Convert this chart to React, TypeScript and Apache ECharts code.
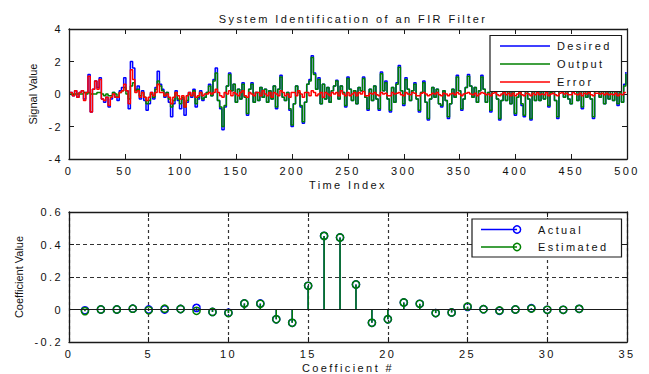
import React, { useEffect, useRef } from "react";
import * as echarts from "echarts";

// ---------- Top plot data (one stored value every 2 samples) ----------
const sampleStep = 2;
const desired = [
  0.1, -0.1, 0.2, -0.2, 0.1, 0.2, -0.3, 0.1, 1.2, -1.1,
  0.3, 0.8, 0.4, 1.0, -0.3, -0.5, -0.2, -0.8, -0.3, 0.1,
  -0.2, -0.4, 0.2, 0.4, 1.0, 0.2, -0.9, 2.0, 1.6, 0.3,
  0.5, -0.3, 0.2, -0.4, -1.0, -0.6, 0.1, -0.3, 0.4, 1.4,
  0.6, 0.3, -0.2, 0.1, -0.5, -1.4, -0.6, 0.2, -0.4, -0.9,
  -0.3, -1.3, -0.5, 0.1, -0.2, 0.3, -0.8, -0.3, 0.2, -0.4,
  -0.2, 0.1, 0.6, -0.1, 0.9, 1.6, -0.4, -0.9, -2.2, -0.8,
  0.5, 1.3, 0.2, 0.6, -0.5, 0.3, -0.3, 0.7, -0.2, -1.3,
  0.3, 0.7, -0.5, 0.1, -0.4, 0.4, -0.2, 0.3, -0.5, 0.2,
  -0.3, 0.5, -0.9, 0.3, 1.15, -0.2, -0.4, 0.1, -1.0, -2.0,
  -0.6, 0.5, 0.1, -0.8, -1.8, -0.5, 0.6, 0.9, 2.35, 1.3,
  0.3, 1.0, -0.6, 0.6, -0.3, 0.4, -0.5, 0.2, 0.5, 0.85,
  -0.3, 0.5, 0.1, -0.8, 1.05, 0.3, -0.4, 0.2, -0.6, 0.4,
  0.2, 1.05, -0.2, -1.0, 0.3, -0.4, 0.5, -0.3, -1.0, 1.35,
  0.2, 0.8, -0.3, -1.1, 0.4, -0.5, 0.7, 1.75, 0.2, -0.7,
  1.0, 0.3, -0.4, 0.2, 0.7, -0.3, -1.1, 0.1, 0.8, -0.5,
  -1.6, -0.3, 0.4, -0.2, 0.3, -0.6, -0.8, 0.2, -0.4, -1.5,
  -0.6, 0.3, -0.2, 1.15, 0.2, -1.0, -0.3, 0.4, 1.2, 0.5,
  -0.2, 0.4, -0.5, 0.2, 1.15, 0.3, -0.5, 0.1, -1.1, 0.5,
  0.8, -0.3, -1.6, -0.4, 0.6, -0.4, 0.3, -0.6, 0.4, -1.3,
  -0.2, 0.7, -0.7, -1.4, 0.6, -0.3, -1.6, 0.3, -0.4, 0.5,
  -0.4, 0.2, -0.3, 0.8, -0.8, 0.1, 0.5, -0.4, -1.5, 0.3,
  0.7, -0.2, 0.4, -0.3, -0.6, 0.5, 0.2, -0.4, 0.3, -0.9,
  0.4, -0.2, 0.6, -0.3, -1.5, 0.2, 0.5, -0.2, 0.3, -0.6,
  0.4, -0.3, 0.2, -0.4, 0.3, -0.7, 0.1, -0.5, 0.6, 1.35,
];
const output = [
  0, 0, 0, 0, 0, 0, 0.1, 0, 0.1, 0,
  0, 0, 0.1, 0.1, 0, -0.1, 0, -0.1, -0.1, 0.1,
  0, -0.2, 0.1, 0.2, 0.4, 0, -0.3, 0.5, 0.7, 0.2,
  0.3, -0.1, 0.1, -0.2, -0.6, -0.4, 0, -0.2, 0.3, 0.8,
  0.5, 0.2, -0.1, 0.1, -0.3, -0.8, -0.4, 0.1, -0.3, -0.6,
  -0.2, -0.8, -0.4, 0, -0.1, 0.2, -0.6, -0.2, 0.1, -0.3,
  -0.2, 0.1, 0.5, -0.1, 0.8, 1.3, -0.4, -0.8, -2.0, -0.7,
  0.5, 1.2, 0.2, 0.6, -0.5, 0.3, -0.3, 0.6, -0.2, -1.2,
  0.3, 0.6, -0.5, 0.1, -0.4, 0.4, -0.2, 0.3, -0.5, 0.2,
  -0.3, 0.5, -0.8, 0.3, 1.05, -0.2, -0.4, 0.1, -0.9, -1.9,
  -0.6, 0.5, 0.1, -0.7, -1.7, -0.5, 0.6, 0.8, 2.25, 1.2,
  0.3, 0.9, -0.6, 0.6, -0.3, 0.4, -0.5, 0.2, 0.5, 0.8,
  -0.3, 0.5, 0.1, -0.7, 0.95, 0.3, -0.4, 0.2, -0.6, 0.4,
  0.2, 0.95, -0.2, -0.9, 0.3, -0.4, 0.5, -0.3, -0.9, 1.25,
  0.2, 0.7, -0.3, -1.0, 0.4, -0.5, 0.6, 1.65, 0.2, -0.6,
  0.9, 0.3, -0.4, 0.2, 0.6, -0.3, -1.0, 0.1, 0.7, -0.5,
  -1.5, -0.3, 0.4, -0.2, 0.3, -0.6, -0.7, 0.2, -0.4, -1.4,
  -0.6, 0.3, -0.2, 1.05, 0.2, -0.9, -0.3, 0.4, 1.1, 0.5,
  -0.2, 0.4, -0.5, 0.2, 1.05, 0.3, -0.5, 0.1, -1.0, 0.5,
  0.7, -0.3, -1.5, -0.4, 0.6, -0.4, 0.3, -0.6, 0.4, -1.2,
  -0.2, 0.6, -0.6, -1.3, 0.6, -0.3, -1.5, 0.3, -0.4, 0.5,
  -0.4, 0.2, -0.3, 0.7, -0.7, 0.1, 0.5, -0.4, -1.4, 0.3,
  0.6, -0.2, 0.4, -0.3, -0.6, 0.5, 0.2, -0.4, 0.3, -0.8,
  0.4, -0.2, 0.6, -0.3, -1.4, 0.2, 0.5, -0.2, 0.3, -0.6,
  0.4, -0.3, 0.2, -0.4, 0.3, -0.6, 0.1, -0.5, 0.5, 1.25,
];
const errorSig = [
  0.1, -0.1, 0.2, -0.2, 0.1, 0.2, -0.4, 0.1, 1.1, -1.1,
  0.3, 0.8, 0.3, 0.9, -0.3, -0.4, -0.2, -0.7, -0.2, 0,
  -0.2, -0.2, 0.1, 0.2, 0.6, 0.2, -0.6, 1.5, 0.9, 0.1,
  0.2, -0.2, 0.1, -0.2, -0.4, -0.2, 0.1, -0.1, 0.1, 0.6,
  0.1, 0.1, -0.1, 0, -0.2, -0.6, -0.2, 0.1, -0.1, -0.3,
  -0.1, -0.8, -0.1, 0.1, -0.1, 0.1, -0.2, -0.1, 0.1, -0.1,
  0, 0, 0.1, 0, 0.1, 0.3, 0.1, -0.1, -0.2, 0.1,
  0, 0.2, -0.1, 0.1, 0, -0.1, 0.1, 0.2, -0.1, -0.2,
  0.1, 0, -0.1, 0.1, 0.1, -0.1, 0.2, 0, -0.1, 0.1,
  -0.2, 0.1, 0, -0.1, 0.2, 0.1, -0.1, 0, -0.2, 0.1,
  0.1, -0.1, 0.2, 0, -0.2, 0.1, 0.1, -0.1, 0.2, 0.1,
  -0.1, 0, 0.1, -0.2, 0.1, 0, -0.1, 0.1, 0, 0.1,
  -0.1, 0.2, 0, -0.1, 0.1, -0.1, 0, 0.1, -0.1, 0.1,
  0, 0.15, -0.1, -0.1, 0.05, 0, 0.1, -0.05, -0.1, 0.1,
  0, 0.05, -0.1, -0.1, 0.1, 0, 0.05, 0.1, -0.05, -0.1,
  0.1, 0, -0.05, 0.1, 0.05, -0.1, -0.1, 0.05, 0.1, 0,
  -0.1, -0.05, 0.05, 0, 0.1, -0.05, -0.1, 0.05, 0, -0.1,
  0, 0.05, -0.05, 0.1, 0, -0.1, 0, 0.05, 0.1, 0,
  -0.05, 0.05, -0.1, 0, 0.1, 0.05, -0.05, 0, -0.1, 0.05,
  0.1, -0.05, -0.1, 0, 0.1, -0.05, 0.05, -0.1, 0.05, -0.1,
  0, 0.1, -0.05, -0.1, 0.05, 0, -0.1, 0.05, -0.05, 0.1,
  -0.05, 0, -0.05, 0.1, -0.1, 0, 0.05, -0.05, -0.1, 0.05,
  0.1, 0, 0.05, -0.05, -0.05, 0.1, 0, -0.05, 0.05, -0.1,
  0.05, 0, 0.1, -0.05, -0.1, 0.05, 0.05, 0, 0.05, -0.05,
  0.05, -0.05, 0, -0.05, 0.05, -0.1, 0, -0.05, 0.1, 0.1,
];

// ---------- Bottom plot data ----------
const coefIndex = [
  1, 2, 3, 4, 5, 6, 7, 8, 9, 10, 11, 12, 13, 14, 15, 16,
  17, 18, 19, 20, 21, 22, 23, 24, 25, 26, 27, 28, 29, 30, 31, 32,
];
const actualCoef = [
  -0.005, 0, 0, 0.005, 0, 0, 0.003, 0.01, -0.015, -0.02, 0.037, 0.037, -0.06, -0.082, 0.146, 0.453,
  0.443, 0.154, -0.082, -0.06, 0.043, 0.035, -0.022, -0.018, 0.016, 0.002, -0.008, 0, 0.008, -0.002, -0.002, 0.004,
];
const estimatedCoef = [
  -0.01, 0, 0, 0.005, -0.005, 0.005, 0.003, -0.008, -0.015, -0.022, 0.037, 0.035, -0.06, -0.082, 0.146, 0.453,
  0.443, 0.154, -0.082, -0.06, 0.043, 0.035, -0.022, -0.018, 0.018, 0.002, -0.006, 0, 0.006, -0.002, -0.002, 0.004,
];

const topLegend = ["Desired", "Output", "Error"];
const bottomLegend = ["Actual", "Estimated"];

const BLUE = "#0000ff";
const GREEN = "#008000";
const RED = "#ff0000";
const AXIS = "#1a1a1a";
const FONT = "Liberation Sans";
const FS = 11;

const textStyle = { color: "#111", fontFamily: FONT, fontSize: FS };

function axis(grid: number, min: number, max: number, interval: number, position: string, labels: boolean, extra: any = {}) {
  return {
    type: "value",
    gridIndex: grid,
    min,
    max,
    interval,
    position,
    axisLine: { show: true, onZero: false, lineStyle: { color: AXIS, width: 1.3 } },
    axisTick: { show: true, inside: true, length: 5, lineStyle: { color: AXIS, width: 1 } },
    axisLabel: { show: labels, ...textStyle, margin: 6 },
    splitLine: { show: false },
    ...extra,
  };
}

const stemRender = (color: string) => (params: any, api: any) => {
  const x = api.value(0);
  const y = api.value(1);
  const p = api.coord([x, y]);
  const b = api.coord([x, 0]);
  return {
    type: "group",
    children: [
      { type: "line", shape: { x1: b[0], y1: b[1], x2: p[0], y2: p[1] }, style: { stroke: color, lineWidth: 1.5 } },
      { type: "circle", shape: { cx: p[0], cy: p[1], r: 3.6 }, style: { fill: "none", stroke: color, lineWidth: 1.5 } },
    ],
  };
};

function buildOption() {
  const timeIndex = desired.map((_, k) => k * sampleStep + 1);
  const pts = (arr: number[]) => arr.map((v, k) => [timeIndex[k], v]);
  const dashH = { color: "#333", width: 1.2, type: [4, 3] };
  const dashV = { color: "#333", width: 1.2, type: [3, 3] };
  const legendFont = `${FS}px "${FONT}"`;

  const topColors = [BLUE, GREEN, RED];
  const topLegendItems: any[] = [
    { type: "rect", shape: { x: 490, y: 35.5, width: 131.5, height: 56 }, style: { fill: "#fff", stroke: AXIS, lineWidth: 1.2 }, z: 100 },
  ];
  topLegend.forEach((name, i) => {
    const y = 46 + i * 18;
    topLegendItems.push({ type: "line", shape: { x1: 500, y1: y, x2: 550, y2: y }, style: { stroke: topColors[i], lineWidth: 1.5 }, z: 101 });
    topLegendItems.push({ type: "text", x: 557, y, style: { text: name, font: legendFont, fill: "#111", verticalAlign: "middle", textVerticalAlign: "middle" }, z: 101 });
  });

  const botColors = [BLUE, GREEN];
  const botLegendItems: any[] = [
    { type: "rect", shape: { x: 472, y: 219, width: 149.5, height: 38 }, style: { fill: "#fff", stroke: AXIS, lineWidth: 1.2 }, z: 100 },
  ];
  bottomLegend.forEach((name, i) => {
    const y = 229.5 + i * 17.5;
    botLegendItems.push({ type: "line", shape: { x1: 481, y1: y, x2: 517, y2: y }, style: { stroke: botColors[i], lineWidth: 1.5 }, z: 101 });
    botLegendItems.push({ type: "circle", shape: { cx: 517, cy: y, r: 3.6 }, style: { fill: "none", stroke: botColors[i], lineWidth: 1.5 }, z: 101 });
    botLegendItems.push({ type: "text", x: 538, y, style: { text: name, font: legendFont, fill: "#111", verticalAlign: "middle", textVerticalAlign: "middle" }, z: 101 });
  });

  const nameStyle = { ...textStyle };

  return {
    animation: false,
    backgroundColor: "#fff",
    title: {
      text: "System Identification of an FIR Filter",
      left: 348,
      top: 8,
      textAlign: "center",
      textStyle: { ...textStyle, fontWeight: "normal" },
    },
    grid: [
      { left: 69, right: 22, top: 29, height: 130 },
      { left: 69, right: 22, top: 212, height: 130 },
    ],
    xAxis: [
      axis(0, 0, 500, 50, "bottom", true, { name: "Time Index", nameLocation: "middle", nameGap: 20, nameTextStyle: nameStyle }),
      axis(0, 0, 500, 50, "top", false),
      axis(1, 0, 35, 5, "bottom", true, {
        name: "Coefficient #",
        nameLocation: "middle",
        nameGap: 20,
        nameTextStyle: nameStyle,
        splitLine: { show: true, lineStyle: dashV },
      }),
      axis(1, 0, 35, 5, "top", false),
    ],
    yAxis: [
      axis(0, -4, 4, 2, "left", true, { name: "Signal Value", nameLocation: "middle", nameGap: 31, nameTextStyle: nameStyle }),
      axis(0, -4, 4, 2, "right", false),
      axis(1, -0.2, 0.6, 0.2, "left", true, {
        name: "Coefficient Value",
        nameLocation: "middle",
        nameGap: 45,
        nameTextStyle: nameStyle,
        splitLine: { show: true, lineStyle: dashH },
      }),
      axis(1, -0.2, 0.6, 0.2, "right", false),
    ],
    series: [
      { name: topLegend[0], type: "line", xAxisIndex: 0, yAxisIndex: 0, data: pts(desired), step: "end", showSymbol: false, lineStyle: { color: BLUE, width: 1.5 }, itemStyle: { color: BLUE } },
      { name: topLegend[1], type: "line", xAxisIndex: 0, yAxisIndex: 0, data: pts(output), step: "end", showSymbol: false, lineStyle: { color: GREEN, width: 1.5 }, itemStyle: { color: GREEN } },
      { name: topLegend[2], type: "line", xAxisIndex: 0, yAxisIndex: 0, data: pts(errorSig), step: "end", showSymbol: false, lineStyle: { color: RED, width: 1.5 }, itemStyle: { color: RED } },
      {
        name: bottomLegend[0],
        type: "custom",
        xAxisIndex: 2,
        yAxisIndex: 2,
        renderItem: stemRender(BLUE),
        data: coefIndex.map((c, i) => [c, actualCoef[i]]),
        markLine: {
          silent: true,
          symbol: "none",
          label: { show: false },
          lineStyle: { color: AXIS, type: "solid", width: 1.2 },
          data: [{ yAxis: 0 }],
        },
      },
      {
        name: bottomLegend[1],
        type: "custom",
        xAxisIndex: 2,
        yAxisIndex: 2,
        renderItem: stemRender(GREEN),
        data: coefIndex.map((c, i) => [c, estimatedCoef[i]]),
      },
    ],
    graphic: [...topLegendItems, ...botLegendItems],
  };
}

const css = `
#fir-chart text { letter-spacing: 2.4px; }
#fir-chart text[transform^="matrix(0,"], #fir-chart text[transform*="e-17"] { letter-spacing: 0; }
`;

export default function App() {
  const ref = useRef<HTMLDivElement>(null);
  useEffect(() => {
    if (!ref.current) return;
    const chart = echarts.init(ref.current, null, { renderer: "svg" });
    chart.setOption(buildOption() as any);
    return () => chart.dispose();
  }, []);
  return (
    <>
      <style>{css}</style>
      <div
        id="fir-chart"
        ref={ref}
        style={{ position: "absolute", left: 0, top: 0, width: 649, height: 374, background: "#fff" }}
      />
    </>
  );
}
